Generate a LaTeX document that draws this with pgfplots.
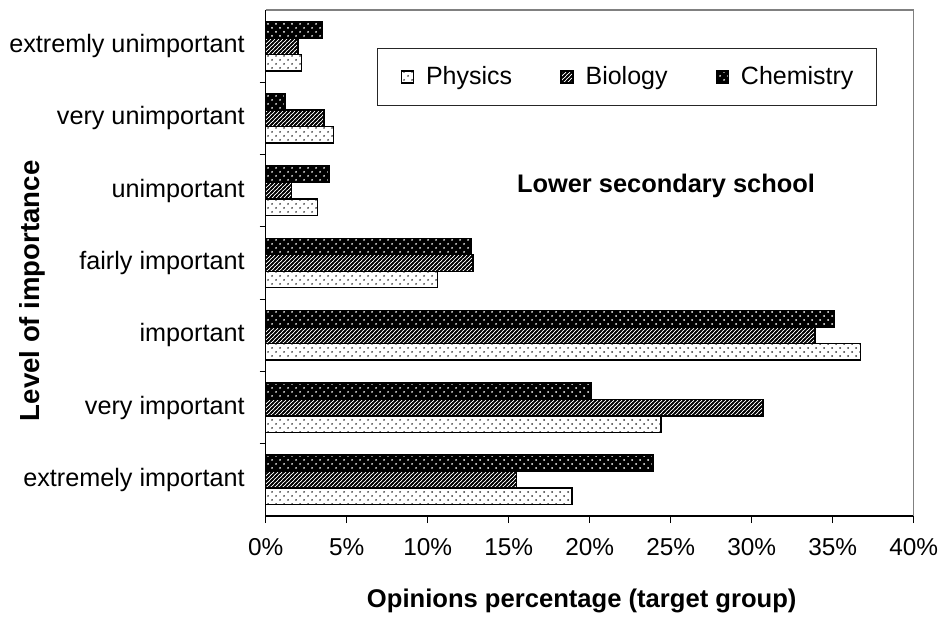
\documentclass[border=0pt]{standalone}
\usepackage{fontspec}
\setmainfont{Liberation Sans}
\usepackage{pgfplots}
\pgfplotsset{compat=1.18}
\usetikzlibrary{patterns}

\pgfdeclarepatternformonly{sparsedots}{\pgfqpoint{-1pt}{-1pt}}{\pgfqpoint{5pt}{5pt}}{\pgfqpoint{4bp}{4bp}}{%
  \pgfpathcircle{\pgfqpoint{0pt}{0pt}}{0.5pt}%
  \pgfpathcircle{\pgfqpoint{2bp}{2bp}}{0.5pt}%
  \pgfusepath{fill}}
\pgfdeclarepatternformonly{denseNE}{\pgfqpoint{-1pt}{-1pt}}{\pgfqpoint{3pt}{3pt}}{\pgfqpoint{2bp}{2bp}}{%
  \pgfsetlinewidth{0.75pt}%
  \pgfpathmoveto{\pgfqpoint{-0.6pt}{-0.6pt}}%
  \pgfpathlineto{\pgfqpoint{2.6pt}{2.6pt}}%
  \pgfusepath{stroke}}

\begin{document}
\begin{tikzpicture}
\begin{axis}[
  name=ax,
  scale only axis, width=324bp, height=253bp,
  xbar=0pt, bar width=8.25bp,
  xmin=0, xmax=40, ymin=-0.5, ymax=6.5,
  xtick={0,5,...,40},
  xticklabels={0\%,5\%,10\%,15\%,20\%,25\%,30\%,35\%,40\%},
  ytick={0,...,6},
  yticklabels={extremely important,very important,important,fairly important,unimportant,very unimportant,extremly unimportant},
  minor ytick={0.5,1.5,...,5.5},
  tick align=outside,
  major tick length=3.5bp, minor tick length=3bp,
  major y tick style={draw=none},
  axis x line*=bottom, axis y line*=left,
  axis line style={black, line width=0.6bp},
  tick style={black, line width=0.6bp},
  xticklabel style={font=\fontsize{12.2bp}{14bp}\selectfont, anchor=base, yshift=-16bp},
  yticklabel style={font=\fontsize{12.6bp}{15bp}\selectfont, anchor=east, inner xsep=0pt, xshift=-6.85bp},
  xlabel={Opinions percentage (target group)},
  ylabel={Level of importance},
  every axis x label/.style={at={(axis description cs:0.4877,-0.1818)}, anchor=base, font=\bfseries\fontsize{12.8bp}{15bp}\selectfont},
  every axis y label/.style={at={(axis description cs:-0.3498,0.445)}, anchor=base, rotate=90, font=\bfseries\fontsize{13.8bp}{16bp}\selectfont},
  legend columns=3,
  legend style={at={(0.172,0.925)}, anchor=north west, draw=black!85, line width=0.5bp,
    font=\fontsize{12.5bp}{15bp}\selectfont, inner xsep=11.5bp, inner ysep=9bp,
    nodes={inner sep=0pt},
    /tikz/every odd column/.style={column sep=6bp},
    /tikz/every even column/.style={column sep=24bp}},
  legend image code/.code={\draw[#1, line width=0.7bp] (0bp,-3bp) rectangle (6bp,3bp);},
]
\addplot[draw=black, line width=0.7bp, pattern=sparsedots, pattern color=black!80]
  coordinates {(18.9,0) (24.4,1) (36.7,2) (10.6,3) (3.2,4) (4.2,5) (2.2,6)};
\addplot[draw=black, line width=0.7bp, pattern=denseNE, pattern color=black]
  coordinates {(15.5,0) (30.7,1) (33.9,2) (12.8,3) (1.6,4) (3.6,5) (2.0,6)};
\addplot[draw=black, line width=0.7bp, fill=black, postaction={pattern=sparsedots, pattern color=white}]
  coordinates {(23.9,0) (20.1,1) (35.1,2) (12.7,3) (3.9,4) (1.2,5) (3.5,6)};
\legend{Physics,Biology,Chemistry}
\node[anchor=base, font=\bfseries\fontsize{12.7bp}{15bp}\selectfont] at (rel axis cs:0.6177,0.640) {Lower secondary school};
\end{axis}
\draw[gray, line width=0.6bp] (ax.north west) -- (ax.north east) -- (ax.south east);
\pgfresetboundingbox
\useasboundingbox (-132.85bp,-52bp) rectangle (338.15bp,258bp);
\end{tikzpicture}
\end{document}
